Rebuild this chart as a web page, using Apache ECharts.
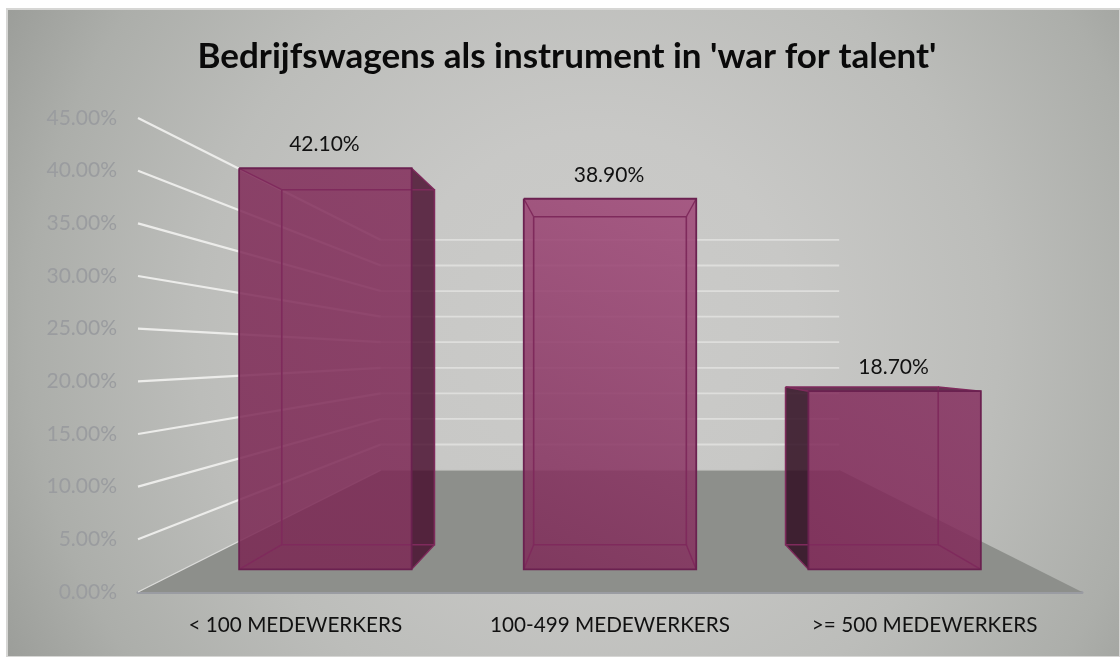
<!DOCTYPE html>
<html>
<head>
<meta charset="utf-8">
<style>
  html, body { margin: 0; padding: 0; background: #fff; }
  #chart { width: 1120px; height: 657px; }
</style>
<script src="https://cdn.jsdelivr.net/npm/echarts@6/dist/echarts.min.js"></script>
</head>
<body>
<div id="chart"></div>
<script>
const titleText = "Bedrijfswagens als instrument in 'war for talent'";
const categories = ["< 100 MEDEWERKERS", "100-499 MEDEWERKERS", ">= 500 MEDEWERKERS"];
const shares = [42.1, 38.9, 18.7];
const yTicks = [0, 5, 10, 15, 20, 25, 30, 35, 40, 45];

// depth of the planes in the fake perspective, 1 = front of the floor
const BACK_WALL = 0.4856;
const BAR_FRONT = 0.9045;
const BAR_BACK = 0.8005;
const BAR_WIDTH = 0.606;

// front face lighting per bar: [lower left, upper right]
const barShades = [
    ["rgba(122,38,82,0.85)", "rgba(130,44,90,0.85)"],
    ["rgba(125,42,87,0.85)", "rgba(159,70,119,0.85)"],
    ["rgba(125,36,84,0.85)", "rgba(134,48,96,0.85)"]
];

let chart = echarts.init(document.getElementById("chart"));

function vanishing(cs) {
    return [cs.x + cs.width / 2, cs.y + cs.height / 2];
}

function project(vp, pt, s) {
    return [vp[0] + s * (pt[0] - vp[0]), vp[1] + s * (pt[1] - vp[1])];
}

function renderFloor(params, api) {
    let cs = params.coordSys;
    let vp = vanishing(cs);
    let left = [cs.x, cs.y + cs.height];
    let right = [cs.x + cs.width, cs.y + cs.height];
    return {
        type: "polygon",
        shape: { points: [left, right, project(vp, right, BACK_WALL), project(vp, left, BACK_WALL)] },
        style: { fill: "#8d8f8b" },
        silent: true
    };
}

function renderGridLine(params, api) {
    let cs = params.coordSys;
    let vp = vanishing(cs);
    let y = api.coord([0, api.value(1)])[1];
    let start = [cs.x, y];
    let end = [cs.x + cs.width, y];
    let backStart = project(vp, start, BACK_WALL);
    let backEnd = project(vp, end, BACK_WALL);
    let zero = api.value(1) === 0;
    return {
        type: "group",
        children: [
            {
                type: "line",
                shape: { x1: start[0], y1: start[1], x2: backStart[0], y2: backStart[1] },
                style: { stroke: zero ? "#dcdcda" : "#ececea", lineWidth: zero ? 1.3 : 2.2 }
            },
            {
                type: "line",
                shape: { x1: backStart[0], y1: backStart[1], x2: backEnd[0], y2: backEnd[1] },
                style: { stroke: zero ? "#c4c4c2" : "#dededc", lineWidth: zero ? 1 : 1.8 }
            }
        ],
        silent: true
    };
}

function renderBar(params, api) {
    let cs = params.coordSys;
    let vp = vanishing(cs);
    let i = api.value(0);
    let top = api.coord([i, api.value(1)]);
    let base = api.coord([i, 0]);
    let half = api.size([1, 0])[0] * BAR_WIDTH / 2;

    let corner = (x, y, s) => project(vp, [x, y], s);
    let fl = corner(top[0] - half, top[1], BAR_FRONT);
    let fr = corner(top[0] + half, top[1], BAR_FRONT);
    let fbl = corner(top[0] - half, base[1], BAR_FRONT);
    let fbr = corner(top[0] + half, base[1], BAR_FRONT);
    let bl = corner(top[0] - half, top[1], BAR_BACK);
    let br = corner(top[0] + half, top[1], BAR_BACK);
    let bbl = corner(top[0] - half, base[1], BAR_BACK);
    let bbr = corner(top[0] + half, base[1], BAR_BACK);

    let children = [];
    let edge = (pts, color, width) => children.push({
        type: "polyline",
        shape: { points: pts },
        style: { fill: null, stroke: color, lineWidth: width }
    });
    let face = (pts, fill) => children.push({
        type: "polygon",
        shape: { points: pts },
        style: { fill: fill }
    });

    if (br[0] > fr[0]) face([fr, br, bbr, fbr], "rgba(69,8,41,0.8)");
    if (bl[0] < fl[0]) face([fl, bl, bbl, fbl], "rgba(48,13,33,0.85)");
    if (bl[1] < fl[1]) face([fl, bl, br, fr], "rgba(84,26,62,0.85)");

    face([fl, fr, fbr, fbl], new echarts.graphic.LinearGradient(0, 1, 1, 0, [
        { offset: 0, color: barShades[i][0] },
        { offset: 1, color: barShades[i][1] }
    ]));

    // back edges show through the glassy front
    let inner = "#7f2a5c";
    edge([bl, br, bbr, bbl, bl], inner, 1.6);
    edge([fl, bl], inner, 1.4);
    edge([fr, br], inner, 1.4);
    edge([fbl, bbl], inner, 1.4);
    edge([fbr, bbr], inner, 1.4);
    edge([fl, fr, fbr, fbl, fl], "#6b2150", 1.8);

    children.push({
        type: "text",
        style: {
            text: api.value(1).toFixed(2) + "%",
            x: (fl[0] + fr[0]) / 2 - 1,
            y: fl[1] - 24,
            align: "center",
            verticalAlign: "middle",
            fill: "#111",
            font: "21px Lato"
        }
    });
    return { type: "group", children: children };
}

let option = {
    backgroundColor: "#fff",
    animation: false,
    graphic: [
        {
            type: "rect",
            z: -10,
            silent: true,
            shape: { x: 7, y: 9, width: 1113, height: 648 },
            style: {
                stroke: "#d6d6d4",
                lineWidth: 2,
                fill: new echarts.graphic.RadialGradient(0.53, 0.5, 1.03, [
                    { offset: 0, color: "#cbcbc9" },
                    { offset: 0.3, color: "#c8c8c6" },
                    { offset: 0.6, color: "#bcbdba" },
                    { offset: 0.85, color: "#acaeaa" },
                    { offset: 1, color: "#9c9e9a" }
                ])
            }
        }
    ],
    title: {
        text: titleText,
        left: 562,
        top: 52,
        textAlign: "center",
        textVerticalAlign: "middle",
        textStyle: { fontFamily: "Lato", fontWeight: "bold", fontSize: 35, color: "#0a0a0a" }
    },
    grid: { left: 138, right: 38, top: 118, bottom: 65 },
    xAxis: {
        type: "category",
        data: categories,
        axisTick: { show: false },
        axisLine: { lineStyle: { color: "#9a9ca2", width: 3 } },
        axisLabel: { margin: 23, fontFamily: "Lato", fontSize: 20.7, color: "#111", interval: 0 }
    },
    yAxis: {
        type: "value",
        min: 0,
        max: 45,
        interval: 5,
        splitLine: { show: false },
        axisLine: { show: false },
        axisTick: { show: false },
        axisLabel: {
            margin: 21,
            fontFamily: "Lato",
            fontSize: 21,
            color: "#9a9c9f",
            formatter: v => v.toFixed(2) + "%"
        }
    },
    series: [
        {
            type: "custom",
            z: 1,
            coordinateSystem: "cartesian2d",
            renderItem: renderFloor,
            data: [[0, 0]],
            silent: true
        },
        {
            type: "custom",
            z: 2,
            coordinateSystem: "cartesian2d",
            renderItem: renderGridLine,
            data: yTicks.map(v => [0, v]),
            silent: true
        },
        {
            type: "custom",
            z: 3,
            coordinateSystem: "cartesian2d",
            renderItem: renderBar,
            data: shares.map((v, i) => [i, v]),
            clip: false
        }
    ]
};
chart.setOption(option);
</script>
</body>
</html>
